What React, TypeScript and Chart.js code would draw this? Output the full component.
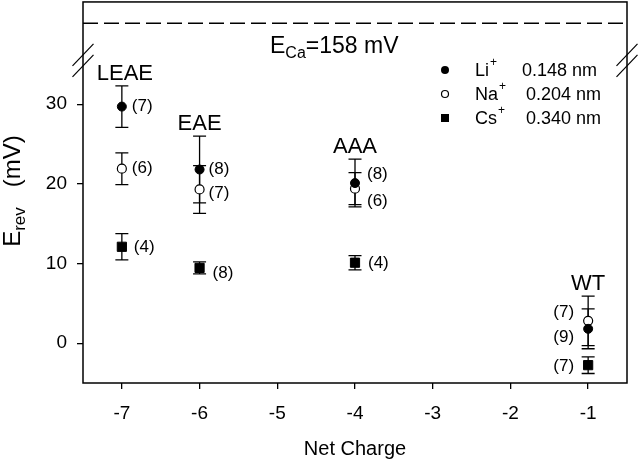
import { useEffect, useRef } from 'react';
import { Chart, registerables } from 'chart.js';

Chart.register(...registerables);

// ---------- data ----------
const netCharge = [-7, -6, -4, -1];
const groupNames = ['LEAE', 'EAE', 'AAA', 'WT'];

const liMean = [29.7, 21.8, 20.1, 1.8];
const liErr = [2.6, 4.2, 3.0, 2.5];
const liN = [7, 8, 8, 9];

const naMean = [21.9, 19.3, 19.4, 2.8];
const naErr = [2.0, 3.0, 2.0, 3.1];
const naN = [6, 7, 6, 7];

const csMean = [12.1, 9.45, 10.1, -2.76];
const csErr = [1.65, 0.75, 0.9, 1.05];
const csN = [4, 8, 4, 7];

const eCa = 158;
const xTickValues = [-7, -6, -5, -4, -3, -2, -1];
const yTickValues = [0, 10, 20, 30];
const ionNames = ['Li', 'Na', 'Cs'];
const ionRadii = ['0.148 nm', '0.204 nm', '0.340 nm'];

// ---------- layout (pixels) ----------
const SHIFT = 9; // canvas is placed SHIFT px above the page top
const liLabelOffset = [[10, 0], [9, 0], [12, -9], [-14, 8]];
const naLabelOffset = [[10, 0], [9, 4], [12, 13], [-14, -9]];
const csLabelOffset = [[12, 1], [13, 5], [13, 1], [-14, 1]];
const groupLabelDx = [3, 0, 0, 0];

const FAMILY = '"Liberation Sans", Arial, Helvetica, sans-serif';
const f = (size: number) => `${size}px ${FAMILY}`;

const overlay = {
  id: 'overlay',
  beforeDatasetsDraw(chart: any) {
    const ctx = chart.ctx;
    const xs = chart.scales.x;
    const ys = chart.scales.y;
    ctx.save();
    ctx.strokeStyle = '#000';
    ctx.lineWidth = 1.3;
    const all = [
      [liMean, liErr],
      [naMean, naErr],
      [csMean, csErr],
    ];
    for (const [m, e] of all) {
      m.forEach((v: number, i: number) => {
        const x = xs.getPixelForValue(netCharge[i]);
        const yt = ys.getPixelForValue(v + e[i]);
        const yb = ys.getPixelForValue(v - e[i]);
        ctx.beginPath();
        ctx.moveTo(x, yt);
        ctx.lineTo(x, yb);
        ctx.moveTo(x - 6.5, yt);
        ctx.lineTo(x + 6.5, yt);
        ctx.moveTo(x - 6.5, yb);
        ctx.lineTo(x + 6.5, yb);
        ctx.stroke();
      });
    }
    ctx.restore();
  },
  afterDatasetsDraw(chart: any) {
    const ctx = chart.ctx;
    const xs = chart.scales.x;
    const ys = chart.scales.y;
    const ca = chart.chartArea;
    ctx.save();
    ctx.strokeStyle = '#000';
    ctx.fillStyle = '#000';
    // frame
    ctx.lineWidth = 1.5;
    ctx.strokeRect(ca.left, ca.top, ca.right - ca.left, ca.bottom - ca.top);
    // axis break marks
    const by = ys.top;
    ctx.lineWidth = 1.2;
    for (const bx of [ca.left, ca.right]) {
      for (const off of [-5.5, 5.5]) {
        ctx.beginPath();
        ctx.moveTo(bx - 10.5, by + off + 11);
        ctx.lineTo(bx + 10.5, by + off - 11);
        ctx.stroke();
      }
    }
    // n labels
    ctx.font = f(17);
    ctx.textBaseline = 'middle';
    const series = [
      [liMean, liN, liLabelOffset],
      [naMean, naN, naLabelOffset],
      [csMean, csN, csLabelOffset],
    ];
    for (const [m, n, off] of series as any) {
      m.forEach((v: number, i: number) => {
        const x = xs.getPixelForValue(netCharge[i]);
        const y = ys.getPixelForValue(v);
        const [dx, dy] = off[i];
        ctx.textAlign = dx < 0 ? 'right' : 'left';
        ctx.fillText(`(${n[i]})`, x + dx, y + dy);
      });
    }
    // group labels
    ctx.font = f(22);
    ctx.textAlign = 'center';
    ctx.textBaseline = 'alphabetic';
    groupNames.forEach((name, i) => {
      const top = Math.max(liMean[i] + liErr[i], naMean[i] + naErr[i], csMean[i] + csErr[i]);
      const x = xs.getPixelForValue(netCharge[i]) + groupLabelDx[i];
      const y = ys.getPixelForValue(top) - 6;
      ctx.fillText(name, x, y);
    });
    // fixed-position annotations (page coordinates)
    ctx.translate(0, SHIFT);
    // E_Ca label
    ctx.textAlign = 'left';
    let tx = 270;
    ctx.font = f(23);
    ctx.fillText('E', tx, 53);
    tx += ctx.measureText('E').width;
    ctx.font = f(16);
    ctx.fillText('Ca', tx, 58);
    tx += ctx.measureText('Ca').width;
    ctx.font = f(23);
    ctx.fillText(`=${eCa} mV`, tx, 53);
    // legend
    const lx = 445;
    const rows = [70, 94, 118];
    const radX = [522, 526, 526];
    rows.forEach((ry, i) => {
      ctx.lineWidth = 1.2;
      if (i === 0) {
        ctx.beginPath();
        ctx.arc(lx, ry, 4, 0, Math.PI * 2);
        ctx.fill();
      } else if (i === 1) {
        ctx.beginPath();
        ctx.arc(lx, ry, 3.5, 0, Math.PI * 2);
        ctx.fillStyle = '#fff';
        ctx.fill();
        ctx.stroke();
        ctx.fillStyle = '#000';
      } else {
        ctx.fillRect(lx - 4, ry - 4, 8, 8);
      }
      ctx.font = f(18);
      ctx.textBaseline = 'middle';
      ctx.fillText(ionNames[i], 475, ry + 1);
      const w = ctx.measureText(ionNames[i]).width;
      ctx.font = f(12);
      ctx.fillText('+', 475 + w + 1, ry - 7);
      ctx.font = f(18);
      ctx.fillText(ionRadii[i], radX[i], ry + 1);
    });
    // y axis title (rotated, with subscript)
    ctx.translate(20, 191);
    ctx.rotate(-Math.PI / 2);
    ctx.textBaseline = 'alphabetic';
    const parts: [string, number, number][] = [
      ['E', 24, 0],
      ['rev', 17, 5],
      ['   (mV)', 24, 0],
    ];
    let total = 0;
    for (const [t, s] of parts) {
      ctx.font = f(s);
      total += ctx.measureText(t).width;
    }
    let px = -total / 2;
    for (const [t, s, d] of parts) {
      ctx.font = f(s);
      ctx.fillText(t, px, d);
      px += ctx.measureText(t).width;
    }
    ctx.restore();
  },
};

export default function App() {
  const ref = useRef<HTMLCanvasElement | null>(null);
  useEffect(() => {
    if (!ref.current) return;
    const chart = new Chart(ref.current, {
      type: 'scatter',
      data: {
        datasets: [
          {
            label: 'ECa',
            data: [
              { x: -7.5, y: eCa },
              { x: -0.5, y: eCa },
            ],
            yAxisID: 'yTop',
            showLine: true,
            borderColor: '#000',
            borderWidth: 1.5,
            borderDash: [15, 6],
            pointRadius: 0,
          },
          {
            label: 'Li+',
            data: netCharge.map((x, i) => ({ x, y: liMean[i] })),
            yAxisID: 'y',
            pointStyle: 'circle',
            pointRadius: 4.5,
            backgroundColor: '#000',
            borderColor: '#000',
            borderWidth: 1,
          },
          {
            label: 'Na+',
            data: netCharge.map((x, i) => ({ x, y: naMean[i] })),
            yAxisID: 'y',
            pointStyle: 'circle',
            pointRadius: 4.5,
            backgroundColor: '#fff',
            borderColor: '#000',
            borderWidth: 1.2,
          },
          {
            label: 'Cs+',
            data: netCharge.map((x, i) => ({ x, y: csMean[i] })),
            yAxisID: 'y',
            pointStyle: 'rect',
            pointRadius: 6.5,
            backgroundColor: '#000',
            borderColor: '#000',
            borderWidth: 1,
          },
        ],
      },
      options: {
        responsive: false,
        animation: false,
        layout: { padding: { top: 1, right: 13, left: 0, bottom: 0 } },
        plugins: { legend: { display: false }, tooltip: { enabled: false } },
        scales: {
          x: {
            type: 'linear',
            min: -7.5,
            max: -0.5,
            afterBuildTicks: (s: any) => {
              s.ticks = xTickValues.map((v) => ({ value: v }));
            },
            ticks: { color: '#000', font: { family: FAMILY, size: 19 }, padding: 13 },
            grid: { drawOnChartArea: false, drawTicks: true, tickLength: 6, color: '#000', lineWidth: 1.3 },
            border: { display: false },
            title: {
              display: true,
              text: 'Net Charge',
              color: '#000',
              font: { family: FAMILY, size: 20 },
              padding: { top: 4, bottom: 4 },
            },
            afterFit: (s: any) => {
              s.height = 82;
            },
          },
          y: {
            type: 'linear',
            position: 'left',
            stack: 'ybreak',
            stackWeight: 323,
            min: -5,
            max: 35.5,
            afterBuildTicks: (s: any) => {
              s.ticks = yTickValues.map((v) => ({ value: v }));
            },
            ticks: { color: '#000', font: { family: FAMILY, size: 19, lineHeight: 0.1 }, padding: 10 },
            grid: { drawOnChartArea: false, drawTicks: true, tickLength: 6, color: '#000', lineWidth: 1.3 },
            border: { display: false },
            afterFit: (s: any) => {
              s.width = 83;
            },
          },
          yTop: {
            type: 'linear',
            position: 'left',
            stack: 'ybreak',
            stackWeight: 58.5,
            min: 150,
            max: 162.6,
            ticks: { display: false },
            grid: { display: false },
            border: { display: false },
            afterFit: (s: any) => {
              s.width = 83;
            },
          },
        },
      },
      plugins: [overlay],
    } as any);
    return () => chart.destroy();
  }, []);
  return (
    <div style={{ position: 'absolute', left: 0, top: 0, width: 640, height: 465, overflow: 'hidden', background: '#fff' }}>
      <canvas
        ref={ref}
        width={640}
        height={465 + SHIFT}
        style={{ position: 'absolute', left: 0, top: -SHIFT }}
      />
    </div>
  );
}
